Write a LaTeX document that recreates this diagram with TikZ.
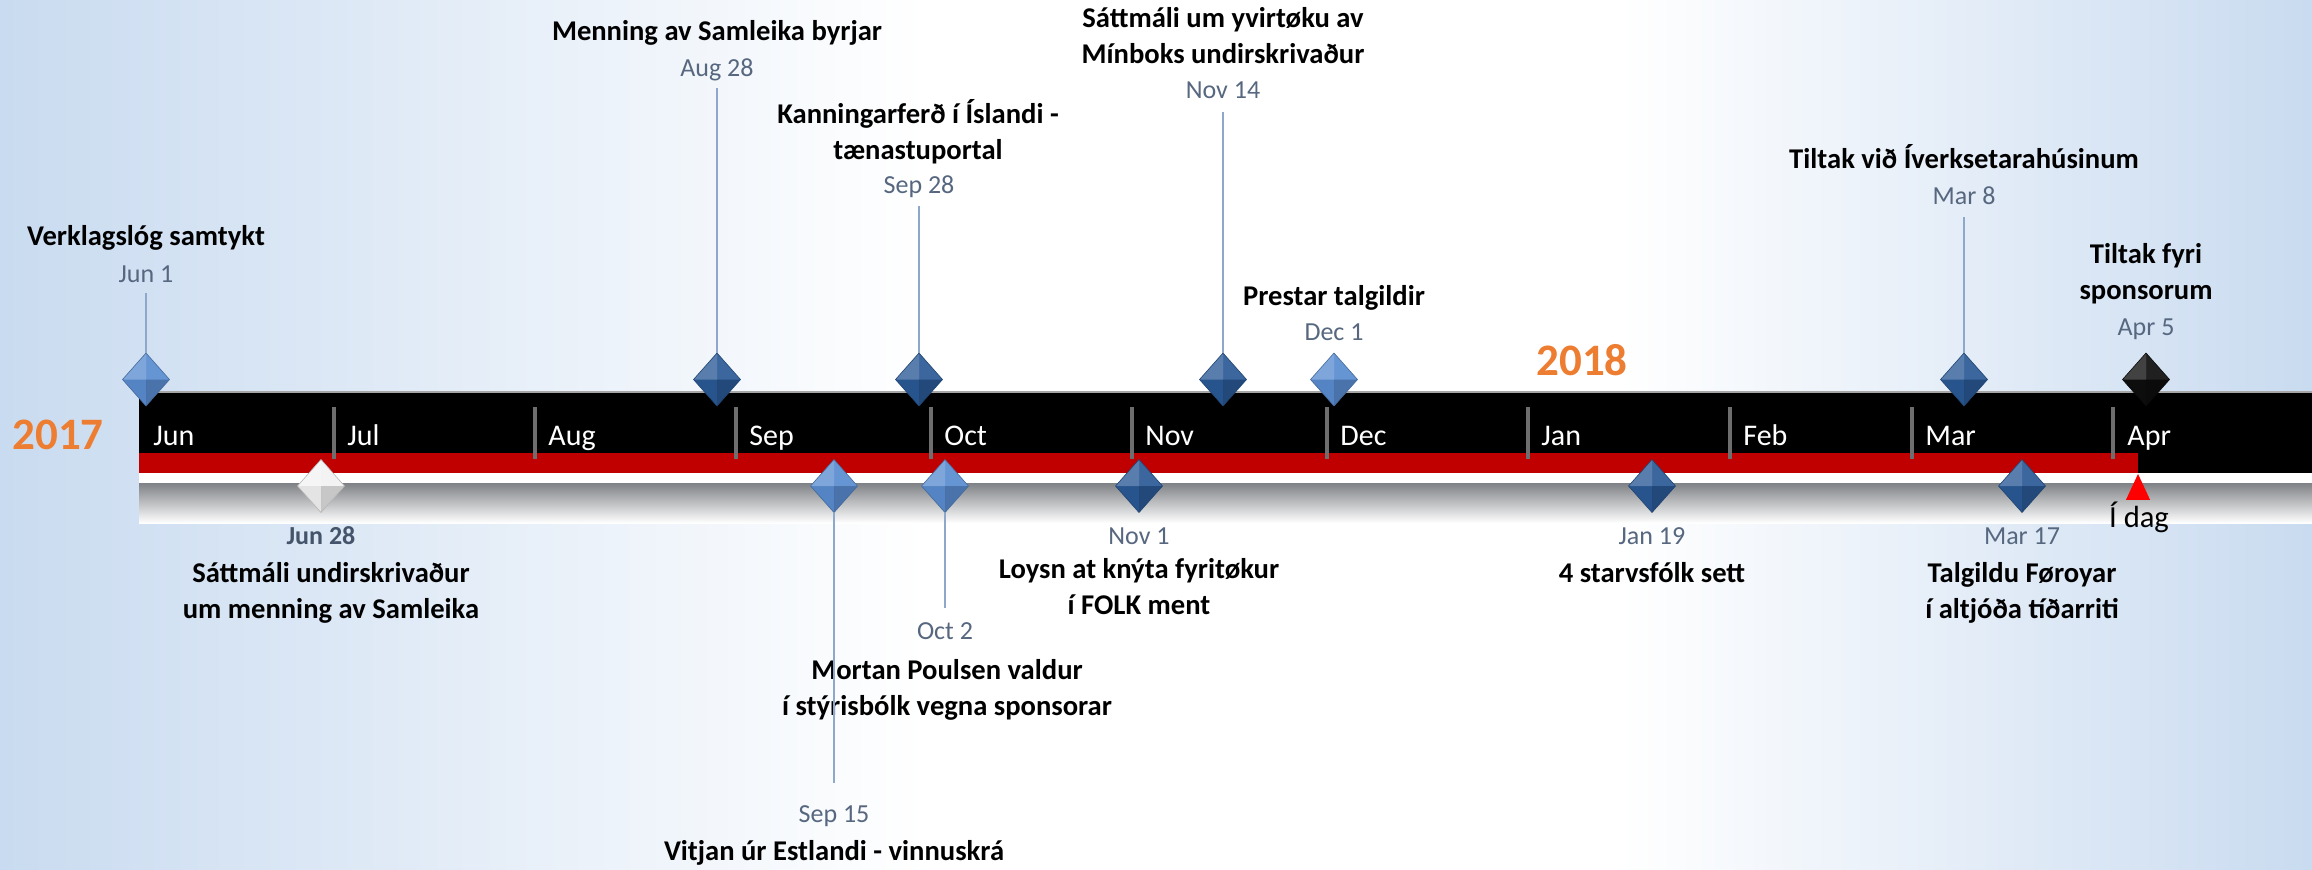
\documentclass[tikz,border=0pt]{standalone}
\usepackage{fontspec}
\setmainfont{Carlito}
\usetikzlibrary{shapes.geometric}
\definecolor{bgedge}{HTML}{C9DBF0}
\definecolor{gemlight}{HTML}{5A8DD0}
\definecolor{gemdark}{HTML}{2B5A96}
\definecolor{gemwhite}{HTML}{F3F3F3}
\definecolor{gemblack}{HTML}{0E0E0E}
\definecolor{barred}{HTML}{C00000}
\definecolor{tickgray}{HTML}{6E6E6E}
\definecolor{datec}{HTML}{56677F}
\definecolor{datedark}{HTML}{44546A}
\definecolor{yearc}{HTML}{ED7D31}
\definecolor{connc}{HTML}{8EA8CB}
\definecolor{bandgray}{HTML}{7E8185}
\definecolor{todayred}{HTML}{FF0000}
\pgfdeclarehorizontalshading{bgshade}{100bp}{color(0bp)=(bgedge); color(25bp)=(bgedge); color(45bp)=(white); color(60bp)=(white); color(75bp)=(bgedge); color(100bp)=(bgedge)}
\tikzset{
  gem/.style={diamond, inner sep=0pt, outer sep=0pt, minimum width=23.5pt, minimum height=26.5pt,
    fill=#1, draw=#1!75!black, line width=0.3pt,
    path picture={
      \fill[white, opacity=0.22] (path picture bounding box.north) -- (path picture bounding box.west) -- (path picture bounding box.center) -- cycle;
      \fill[white, opacity=0.08] (path picture bounding box.north) -- (path picture bounding box.east) -- (path picture bounding box.center) -- cycle;
      \fill[black, opacity=0.06] (path picture bounding box.south) -- (path picture bounding box.west) -- (path picture bounding box.center) -- cycle;
      \fill[black, opacity=0.18] (path picture bounding box.south) -- (path picture bounding box.east) -- (path picture bounding box.center) -- cycle;
    }},
  ttl/.style={font=\fontsize{14.3}{18}\selectfont\bfseries, align=center, inner sep=0pt, anchor=base, text=black},
  dte/.style={font=\fontsize{13}{16}\selectfont, text=datec, inner sep=0pt, anchor=base},
  mon/.style={font=\fontsize{15}{18}\selectfont, text=white, inner sep=0pt, anchor=base west},
  yr/.style={font=\fontsize{22.5}{27}\selectfont\bfseries, text=yearc, inner sep=0pt, anchor=base},
  conn/.style={draw=connc, line width=0.9pt},
  tickline/.style={draw=tickgray, line width=2pt},
}
\begin{document}
\begin{tikzpicture}[x=0.5pt, y=-0.5pt]
\useasboundingbox (0,0) rectangle (2312,869);
\shade[shading=bgshade] (0,0) rectangle (2312,869);

% bar
\fill[black] (139,392) rectangle (2312,473);
\draw[gray!70, line width=0.6pt] (139,392) -- (2312,392);
\fill[barred] (139,453) rectangle (2138,473);
\fill[white] (139,473) rectangle (2312,483);
\shade[top color=bandgray, bottom color=white] (139,483) rectangle (2312,523);

% ticks
\foreach \x in {334,535,736,931,1132,1327,1528,1730,1912,2113}
  \draw[tickline] (\x,407) -- (\x,459);

% months
\node[mon] (mJun) at (153,445) {Jun};
\node[mon] (mJul) at (347,445) {Jul};
\node[mon] (mAug) at (548,445) {Aug};
\node[mon] (mSep) at (749,445) {Sep};
\node[mon] (mOct) at (944,445) {Oct};
\node[mon] (mNov) at (1145,445) {Nov};
\node[mon] (mDec) at (1340,445) {Dec};
\node[mon] (mJan) at (1541,445) {Jan};
\node[mon] (mFeb) at (1743,445) {Feb};
\node[mon] (mMar) at (1925,445) {Mar};
\node[mon] (mApr) at (2127,445) {Apr};

% years
\node[yr] (y2017) at (58,449) {2017};
\node[yr] (y2018) at (1582,375) {2018};

% today marker
\node[draw=none, fill=todayred, isosceles triangle, isosceles triangle apex angle=50, shape border rotate=90, inner sep=0pt, minimum height=13pt, minimum width=12pt, anchor=apex] (today) at (2138,473) {};
\node[font=\fontsize{15.3}{18}\selectfont, inner sep=0pt, anchor=base] (todaylbl) at (2139,527) {Í dag};

% upper labels (base = last line baseline)
\node[ttl] (tJun1) at (146,245) {Verklagslóg samtykt};
\node[dte] (dJun1) at (146,282) {Jun 1};
\node[ttl] (tAug28) at (717,40) {Menning av Samleika byrjar};
\node[dte] (dAug28) at (717,76) {Aug 28};
\node[ttl] (tSep28) at (918,159) {Kanningarferð í Íslandi -\\tænastuportal};
\node[dte] (dSep28) at (919,193) {Sep 28};
\node[ttl] (tNov14) at (1223,63) {Sáttmáli um yvirtøku av\\Mínboks undirskrivaður};
\node[dte] (dNov14) at (1223,98) {Nov 14};
\node[ttl] (tDec1) at (1334,305) {Prestar talgildir};
\node[dte] (dDec1) at (1334,340) {Dec 1};
\node[ttl] (tMar8) at (1964,168) {Tiltak við Íverksetarahúsinum};
\node[dte] (dMar8) at (1964,204) {Mar 8};
\node[ttl] (tApr5) at (2146,299) {Tiltak fyri\\sponsorum};
\node[dte] (dApr5) at (2146,335) {Apr 5};

% lower labels
\node[dte, text=datedark, font=\fontsize{13}{16}\selectfont\bfseries] (dJun28) at (321,544) {Jun 28};
\node[ttl] (tJun28) at (331,618) {Sáttmáli undirskrivaður\\um menning av Samleika};
\node[dte] (dSep15) at (834,822) {Sep 15};
\node[ttl] (tSep15) at (834,860) {Vitjan úr Estlandi - vinnuskrá};
\node[dte] (dOct2) at (945,639) {Oct 2};
\node[ttl] (tOct2) at (947,715) {Mortan Poulsen valdur\\í stýrisbólk vegna sponsorar};
\node[dte] (dNov1) at (1139,544) {Nov 1};
\node[ttl] (tNov1) at (1139,614) {Loysn at knýta fyritøkur\\í FOLK ment};
\node[dte] (dJan19) at (1652,544) {Jan 19};
\node[ttl] (tJan19) at (1652,582) {4 starvsfólk sett};
\node[dte] (dMar17) at (2022,544) {Mar 17};
\node[ttl] (tMar17) at (2022,618) {Talgildu Føroyar\\í altjóða tíðarriti};

% gems upper
\node[gem=gemlight] (gJun1) at (146,379.5) {};
\node[gem=gemdark] (gAug28) at (717,379.5) {};
\node[gem=gemdark] (gSep28) at (919,379.5) {};
\node[gem=gemdark] (gNov14) at (1223,379.5) {};
\node[gem=gemlight] (gDec1) at (1334,379.5) {};
\node[gem=gemdark] (gMar8) at (1964,379.5) {};
\node[gem=gemblack] (gApr5) at (2146,379.5) {};
% gems lower
\node[gem=gemwhite] (gJun28) at (321,486) {};
\node[gem=gemlight] (gSep15) at (834,486) {};
\node[gem=gemlight] (gOct2) at (945,486) {};
\node[gem=gemdark] (gNov1) at (1139,486) {};
\node[gem=gemdark] (gJan19) at (1652,486) {};
\node[gem=gemdark] (gMar17) at (2022,486) {};

% connectors
\draw[conn] ([yshift=-5.5pt]dJun1.base) -- (gJun1.north);
\draw[conn] ([yshift=-6pt]dAug28.base) -- (gAug28.north);
\draw[conn] ([yshift=-6.5pt]dSep28.base) -- (gSep28.north);
\draw[conn] ([yshift=-7pt]dNov14.base) -- (gNov14.north);
\draw[conn] ([yshift=-6.5pt]dMar8.base) -- (gMar8.north);
\draw[conn] (gSep15.south) -- ([yshift=19.5pt]dSep15.base);
\draw[conn] (gOct2.south) -- ([yshift=15.5pt]dOct2.base);
\end{tikzpicture}
\end{document}
